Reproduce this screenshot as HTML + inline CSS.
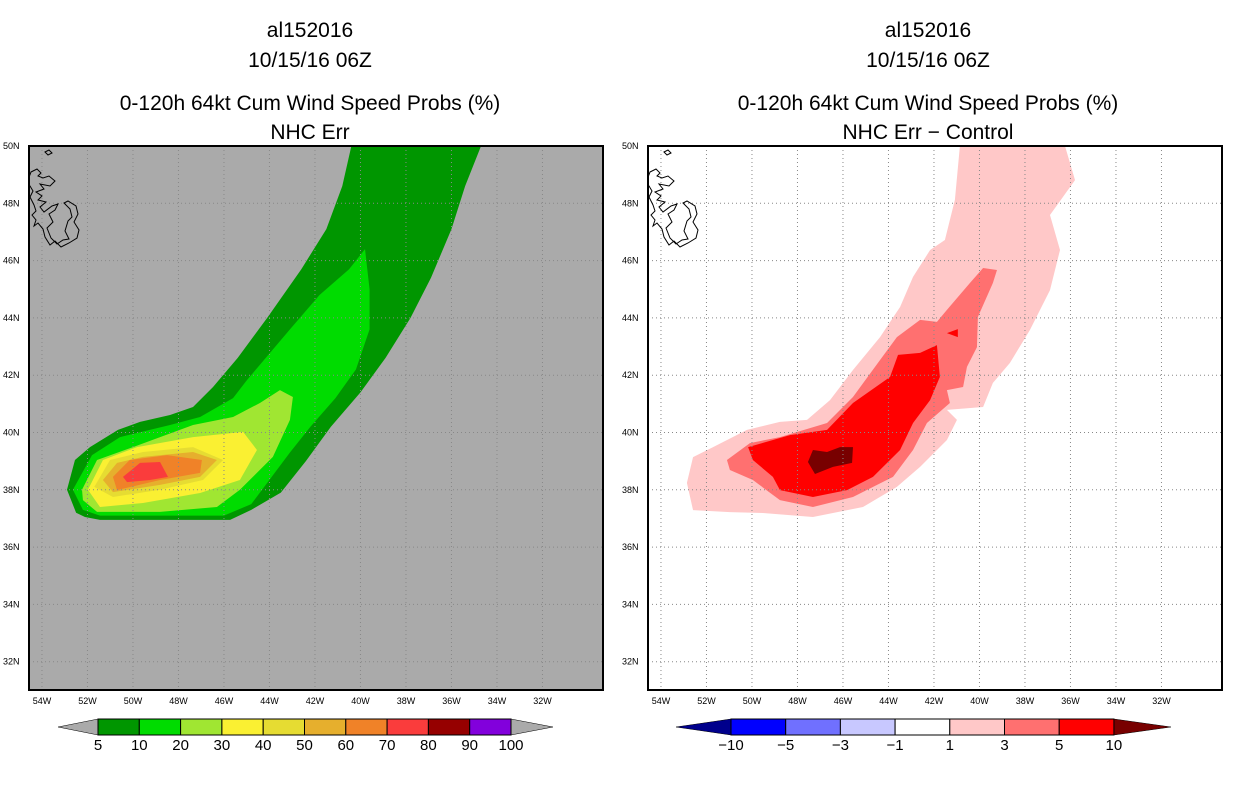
<!DOCTYPE html>
<html><head><meta charset="utf-8"><style>
body{margin:0;background:#fff;}
svg{display:block;font-family:"Liberation Sans",sans-serif;}
.t{font-size:21px;text-anchor:middle;}
.tk{font-size:9px;fill:#000;}
.cb{font-size:15px;text-anchor:middle;}
</style></head><body>
<svg id="s" width="1236" height="800" viewBox="0 0 1236 800">
<g>
<text class="t" x="310" y="37">al152016</text><text class="t" x="310" y="67">10/15/16 06Z</text>
<text class="t" x="310" y="110">0-120h 64kt Cum Wind Speed Probs (%)</text><text class="t" x="310" y="139">NHC Err</text></g>
<g>
<text class="t" x="928" y="37">al152016</text><text class="t" x="928" y="67">10/15/16 06Z</text>
<text class="t" x="928" y="110">0-120h 64kt Cum Wind Speed Probs (%)</text><text class="t" x="928" y="139">NHC Err − Control</text></g>
<g id="L"></g>
<g id="R"></g>
<g id="CB"></g>
</svg>
<script>
const latTicks=[50,48,46,44,42,40,38,36,34,32];
const lonTicks=[54,52,50,48,46,44,42,40,38,36,34,32];
const leftLevels=["5","10","20","30","40","50","60","70","80","90","100"];
const leftColors=["#009600","#00dc00","#a0e632","#faf032","#e6dc32","#e6af2d","#f08228","#fa3c3c","#960000","#8200dc"];
const rightLevels=["−10","−5","−3","−1","1","3","5","10"];
const rightColors=["#0000ff","#7070ff","#c8c8ff","#ffffff","#ffc8c8","#ff7070","#ff0000"];
// contour polygons [lonW, lat]
const left5=[[40.4,50],[40.8,48.6],[41.5,47.1],[42.6,45.7],[44.1,44],[45.4,42.6],[46.48,41.59],[47.36,40.89],[48.37,40.61],[49.69,40.37],[50.66,40.09],[51.89,39.49],[52.55,39.04],[52.9,38.0],[52.5,37.2],[52.11,37.05],[51.45,36.95],[45.73,36.95],[44.8,37.3],[43.5,37.9],[42.4,39],[41.3,40.2],[40,41.4],[38.9,42.6],[37.8,44],[36.9,45.4],[36,47.1],[35.4,48.6],[34.7,50]];
const left10=[[39.8,46.4],[40.5,45.7],[41.8,44.8],[43.1,43.6],[44.99,41.83],[45.6,41.2],[47.05,40.54],[48.37,40.26],[50.57,39.84],[51.8,39.21],[52.64,38.0],[52.2,37.3],[51.45,37.1],[46.0,37.1],[44.8,37.5],[43.1,39.3],[42.2,40.2],[41.1,41.2],[40.2,42.2],[39.6,43.6],[39.6,45]];
const left20=[[43.54,41.48],[44.42,41.03],[45.6,40.54],[47.36,40.26],[50.0,39.49],[51.58,39.04],[52.24,38.0],[52.2,37.64],[51.58,37.23],[48.81,37.23],[46.31,37.4],[45.3,38.0],[43.85,39.15],[43.1,40.44],[42.97,41.24]];
const left30=[[51.98,38.0],[51.32,39.04],[49.82,39.49],[47.36,39.84],[45.16,40.02],[44.55,39.39],[45.3,38.34],[47.05,37.89],[49.56,37.54],[51.45,37.4]];
const left40=[[51.7,38.1],[51.01,39.04],[49.56,39.32],[47.36,39.49],[46.04,39.04],[46.92,38.34],[48.81,38.0],[50.88,37.75]];
const left50=[[51.32,38.34],[50.7,38.94],[49.56,39.15],[47.36,39.32],[46.31,39.04],[47.05,38.45],[48.81,38.17],[50.88,37.92]];
const left60=[[50.88,38.45],[50.14,39.04],[48.5,39.21],[46.97,39.04],[47.05,38.59],[48.81,38.34],[50.7,37.99]];
const left70=[[50.44,38.45],[49.69,38.94],[48.81,38.97],[48.46,38.45],[49.25,38.34],[50.26,38.27]];
const right1=[[40.86,50],[41.08,48.12],[41.52,46.72],[42.17,46.37],[42.92,45.43],[43.49,44.38],[44.37,43.33],[45.56,42.18],[46.57,41.13],[47.58,40.44],[48.77,40.37],[50.22,40.09],[51.71,39.49],[52.59,39.14],[52.86,38.24],[52.59,37.29],[50.97,37.22],[49.52,37.19],[47.32,37.05],[45.12,37.4],[43.63,38.1],[42.61,38.8],[41.43,39.74],[40.99,40.44],[41.43,40.79],[39.84,40.89],[39.41,41.73],[38.66,42.43],[37.78,43.58],[36.9,44.97],[36.46,46.37],[36.9,47.59],[35.8,48.81],[36.24,50]];
const right3=[[51.1,39.04],[50.09,39.63],[48.77,39.84],[46.7,40.33],[45.56,41.24],[44.37,42.53],[43.63,43.33],[42.61,43.93],[41.87,43.86],[41.43,44.28],[40.42,45.22],[39.84,45.74],[39.23,45.67],[39.41,45.22],[40.07,44.03],[40.11,42.98],[40.55,42.29],[40.72,41.59],[41.43,41.48],[41.3,41.03],[42.31,40.33],[42.92,39.39],[43.8,38.45],[45.56,37.75],[47.32,37.4],[48.77,37.64],[49.96,38.34],[50.97,38.69]];
const right5=[[50.17,39.49],[48.33,39.91],[46.7,40.09],[45.56,41.03],[43.93,41.94],[43.58,42.71],[42.61,42.78],[41.87,43.05],[41.74,41.94],[42.17,41.13],[42.92,40.33],[43.49,39.39],[44.68,38.45],[45.82,37.99],[47.32,37.75],[48.77,37.99],[49.08,38.45],[49.96,39.04]];
const right5b=[[41.43,43.47],[40.95,43.61],[40.95,43.33]];
const right10=[[47.54,38.97],[47.32,39.39],[46.7,39.32],[46.13,39.49],[45.56,39.49],[45.6,38.94],[46.44,38.8],[47.23,38.55]];
const W=22.75,H=28.65;
const ns='http://www.w3.org/2000/svg';
function el(t,a,p){const e=document.createElementNS(ns,t);for(const k in a)e.setAttribute(k,a[k]);p.appendChild(e);return e;}
function panel(g,x0,bg,polys){
  const xs=lw=>x0+(54.57-lw)*W, ys=la=>146+(50-la)*H;
  const cp=el('clipPath',{id:'c'+x0},g);el('rect',{x:x0,y:146,width:574,height:544},cp);
  const bgr=el('rect',{x:x0,y:146,width:574,height:544,fill:bg},g);
  
  
  const cg=el('g',{'clip-path':'url(#c'+x0+')'},g);
  polys.forEach(([pts,c,n])=>{
    const p=el('polygon',{points:pts.map(q=>xs(q[0])+','+ys(q[1])).join(' '),fill:c},cg);
    
    
  });
  latTicks.forEach(la=>{
    const y=ys(la);
    if(la<50){const l=el('line',{x1:x0,x2:x0+574,y1:y,y2:y,stroke:'#888','stroke-dasharray':'1,3','stroke-width':1},cg);
    
    }
    const t=el('text',{x:x0-26,y:y+3,class:'tk'},g);t.textContent=la+'N';
    
    
  });
  lonTicks.forEach(lw=>{
    const x=xs(lw);
    const l=el('line',{x1:x,x2:x,y1:146,y2:690,stroke:'#888','stroke-dasharray':'1,3','stroke-width':1},cg);
    
    
    const t=el('text',{x:x,y:704,class:'tk','text-anchor':'middle'},g);t.textContent=lw+'W';
    
    
  });
  const c=el('path',{d:`M${x0+2},${172} l6,-3 l4,4 l-3,3 l5,2 l6,-2 l6,5 l-5,5 l-10,-2 l4,5 l-8,3 l6,4 l-4,4 l8,2 l-6,5 l4,5 l8,-6 l6,-2 l-3,6 l-6,4 l4,8 l-6,6 l4,10 l6,6 l6,-4 l6,-1 l-4,-8 l3,-10 l4,-4 l-2,-8 l-6,-6 l4,-2 l8,5 l2,8 l-4,8 l5,8 l-2,8 l-8,5 l-8,4 l-6,-6 l-5,4 l-5,-8 l-2,-8 l-5,-6 l-4,3 l2,-6 l-4,-5 l4,-4 l-2,-6 l-4,-8 l3,-6 l-3,-5 l-5,2 z M${x0+16},${152} l4,-2 l3,3 l-4,2 z`,fill:'none',stroke:'#000','stroke-width':1},cg);
  
  
  const b=el('rect',{x:x0,y:146,width:574,height:544,fill:'none',stroke:'#000','stroke-width':2},g);
  
  
}
panel(document.getElementById('L'),29,'#aaaaaa',[[left5,leftColors[0],'contour-5'],[left10,leftColors[1],'contour-10'],[left20,leftColors[2],'contour-20'],[left30,leftColors[3],'contour-30'],[left40,leftColors[4],'contour-40'],[left50,leftColors[5],'contour-50'],[left60,leftColors[6],'contour-60'],[left70,leftColors[7],'contour-70']]);
panel(document.getElementById('R'),648,'#ffffff',[[right1,rightColors[4],'diff-1'],[right3,rightColors[5],'diff-3'],[right5,rightColors[6],'diff-5'],[right5b,rightColors[6],'diff-5-spot'],[right10,'#780000','diff-10']]);
function cbar(g,x0,bw,tipL,tipR,cols,labs,cl,cr){
  const y=719,h=16,x1=x0+bw*cols.length;
  const a=el('polygon',{points:`${tipL},${y+h/2} ${x0},${y} ${x0},${y+h}`,fill:cl,stroke:'#000','stroke-width':0.5},g);
  
  
  const b=el('polygon',{points:`${tipR},${y+h/2} ${x1},${y} ${x1},${y+h}`,fill:cr,stroke:'#000','stroke-width':0.5},g);
  
  
  cols.forEach((c,i)=>{const r=el('rect',{x:x0+i*bw,y:y,width:bw,height:h,fill:c,stroke:'#000','stroke-width':1},g);
    
    });
  labs.forEach((l,i)=>{const t=el('text',{x:x0+i*bw,y:750,class:'cb'},g);t.textContent=l;
    
    });
}
const CB=document.getElementById('CB');
cbar(CB,98,41.3,58,553,leftColors,leftLevels,'#aaaaaa','#aaaaaa');
cbar(CB,731,54.7,676,1171,rightColors,rightLevels,'#00008c','#780000');
</script>
</body></html>
